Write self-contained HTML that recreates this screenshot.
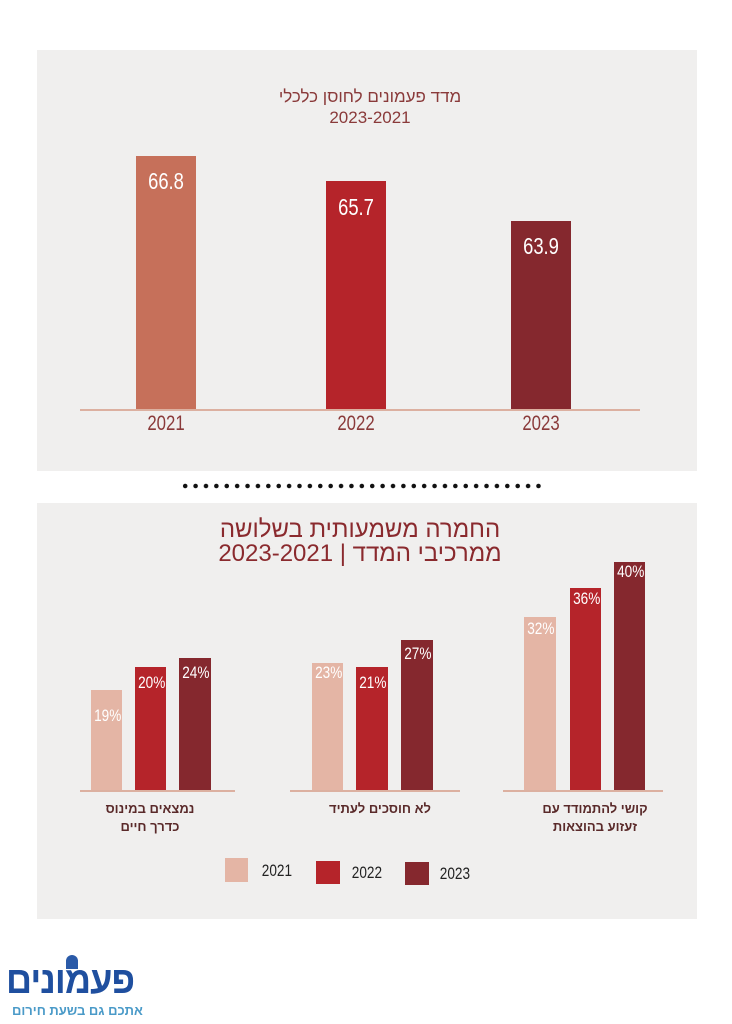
<!DOCTYPE html>
<html><head><meta charset="utf-8"><style>
body{margin:0;width:732px;height:1024px;background:#fff;position:relative;overflow:hidden;font-family:"Liberation Sans","Noto Sans CJK SC",sans-serif}
.p{position:absolute;background:#f0efee}
.a{position:absolute}
.t{position:absolute;text-align:center;white-space:nowrap}
.v{position:absolute;color:#fff;font-family:"Liberation Sans Narrow","Liberation Sans",sans-serif;text-align:center;transform:scaleX(0.8)}
.y{position:absolute;text-align:center;transform:scaleX(0.8)}
</style></head><body>
<div class="p" style="left:37px;top:50px;width:660px;height:421px"></div>
<div class="p" style="left:37px;top:503px;width:660px;height:416px"></div>

<div class="t" style="left:220px;width:300px;top:86px;font-size:17px;color:#8a3a3a;line-height:21px">מדד פעמונים לחוסן כלכלי<br>2023-2021</div>
<div class="a" style="left:136px;top:156px;width:60px;height:254px;background:#c6705a"></div>
<div class="a" style="left:326px;top:181px;width:60px;height:229px;background:#b5242a"></div>
<div class="a" style="left:511px;top:221px;width:60px;height:189px;background:#85282e"></div>
<div class="v" style="left:136px;width:60px;top:168px;font-size:23px">66.8</div>
<div class="v" style="left:326px;width:60px;top:194px;font-size:23px">65.7</div>
<div class="v" style="left:511px;width:60px;top:233px;font-size:23px">63.9</div>
<div class="a" style="left:80px;top:409px;width:560px;height:2px;background:#dcb0a0"></div>
<div class="y" style="left:126px;width:80px;top:412px;font-size:21px;color:#8a3a3a">2021</div>
<div class="y" style="left:316px;width:80px;top:412px;font-size:21px;color:#8a3a3a">2022</div>
<div class="y" style="left:501px;width:80px;top:412px;font-size:21px;color:#8a3a3a">2023</div>

<div class="a" style="left:180px;top:481px;width:362px;height:10px;background:radial-gradient(circle,#111 2px,transparent 2.5px) 0 0/10.4px 10px repeat-x"></div>

<div class="t" style="left:150px;width:420px;top:518px;font-size:24px;color:#8a2a2e;line-height:24px">החמרה משמעותית בשלושה<br>ממרכיבי המדד | 2023-2021</div>

<div class="a" style="left:91px;top:690px;width:31px;height:100px;background:#e4b5a5"></div>
<div class="a" style="left:135px;top:667px;width:31px;height:123px;background:#b5242a"></div>
<div class="a" style="left:179px;top:658px;width:32px;height:132px;background:#85282e"></div>
<div class="a" style="left:312px;top:663px;width:31px;height:127px;background:#e4b5a5"></div>
<div class="a" style="left:356px;top:667px;width:32px;height:123px;background:#b5242a"></div>
<div class="a" style="left:401px;top:640px;width:32px;height:150px;background:#85282e"></div>
<div class="a" style="left:524px;top:617px;width:32px;height:173px;background:#e4b5a5"></div>
<div class="a" style="left:570px;top:588px;width:31px;height:202px;background:#b5242a"></div>
<div class="a" style="left:614px;top:562px;width:31px;height:228px;background:#85282e"></div>
<div class="v" style="left:91px;width:31px;top:706px;font-size:17px">19%</div>
<div class="v" style="left:135px;width:31px;top:673px;font-size:17px">20%</div>
<div class="v" style="left:179px;width:32px;top:663px;font-size:17px">24%</div>
<div class="v" style="left:312px;width:31px;top:663px;font-size:17px">23%</div>
<div class="v" style="left:356px;width:32px;top:673px;font-size:17px">21%</div>
<div class="v" style="left:401px;width:32px;top:644px;font-size:17px">27%</div>
<div class="v" style="left:524px;width:32px;top:619px;font-size:17px">32%</div>
<div class="v" style="left:570px;width:31px;top:589px;font-size:17px">36%</div>
<div class="v" style="left:614px;width:31px;top:562px;font-size:17px">40%</div>
<div class="a" style="left:80px;top:790px;width:155px;height:2px;background:#dcb0a0"></div>
<div class="a" style="left:290px;top:790px;width:170px;height:2px;background:#dcb0a0"></div>
<div class="a" style="left:503px;top:790px;width:160px;height:2px;background:#dcb0a0"></div>
<div class="t" style="left:80px;width:140px;top:800px;font-size:13px;font-weight:bold;color:#5a2a2a;line-height:18px">נמצאים במינוס<br>כדרך חיים</div>
<div class="t" style="left:310px;width:140px;top:800px;font-size:13px;font-weight:bold;color:#5a2a2a;line-height:18px">לא חוסכים לעתיד</div>
<div class="t" style="left:525px;width:140px;top:800px;font-size:13px;font-weight:bold;color:#5a2a2a;line-height:18px">קושי להתמודד עם<br>זעזוע בהוצאות</div>

<div class="a" style="left:225px;top:858px;width:23px;height:24px;background:#e4b5a5"></div>
<div class="a" style="left:316px;top:861px;width:24px;height:23px;background:#b5242a"></div>
<div class="a" style="left:405px;top:862px;width:24px;height:23px;background:#85282e"></div>
<div class="y" style="left:258px;top:861px;font-size:17px;color:#222">2021</div>
<div class="y" style="left:348px;top:863px;font-size:17px;color:#222">2022</div>
<div class="y" style="left:436px;top:864px;font-size:17px;color:#222">2023</div>

<div class="a" style="left:66px;top:955px;width:12px;height:14px;background:#2a5aa8;border-radius:6px 6px 0 0"></div>
<div class="a" style="left:6px;top:960px;font-size:38px;font-weight:bold;color:#1f4f9f;letter-spacing:-1px;transform:scaleX(0.95);transform-origin:left">פעמונים</div>
<div class="a" style="left:12px;top:1003px;font-size:13px;font-weight:bold;color:#4a9ac8">אתכם גם בשעת חירום</div>
</body></html>
